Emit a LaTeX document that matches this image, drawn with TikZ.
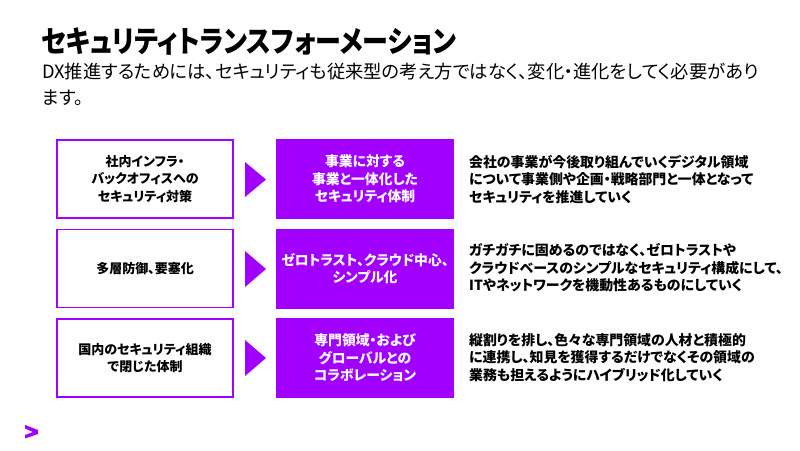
\documentclass[tikz,border=0pt]{standalone}
\usepackage{graphicx}
\usepackage{fontspec}
\setmainfont{Noto Sans CJK JP}[RawFeature=+palt]
\definecolor{acc}{HTML}{A100FF}
\begin{document}
\begin{tikzpicture}[x=1pt,y=-1pt,
  oldbox/.style={draw=acc,line width=1.5pt,fill=white,minimum width=176pt,minimum height=78pt,align=center,font=\bfseries\fontsize{13}{17.5}\selectfont,inner sep=2pt},
  newbox/.style={fill=acc,minimum width=178pt,minimum height=80pt,align=center,text=white,font=\bfseries\fontsize{13.8}{17.5}\selectfont,inner sep=2pt},
  desc/.style={anchor=west,align=left,font=\bfseries\fontsize{13.9}{17.5}\selectfont,inner sep=0pt},
  tri/.style={fill=acc,draw=none}]
\useasboundingbox (0,0) rectangle (800,450);
\fill[white] (0,0) rectangle (800,450);
\node[anchor=west,inner sep=0pt,font=\bfseries\fontsize{26}{30}\selectfont] (title) at (41,41.5) {\scalebox{1}[1.15]{セキュリティトランスフォーメーション}};
\node[anchor=north west,inner sep=0pt,align=left,font=\fontsize{18.3}{26}\selectfont] (sub) at (42,62.5) {DX推進するためには、セキュリティも従来型の考え方ではなく、変化・進化をしてく必要があり\\ます。};
% row 1
\node[oldbox] (o1) at (145,179) {社内インフラ・\\バックオフィスへの\\セキュリティ対策};
\node[newbox] (n1) at (365,179) {事業に対する\\事業と一体化した\\セキュリティ体制};
\fill[tri] (245,162) -- (266,179.5) -- (245,197) -- cycle;
\node[desc] (d1) at (469,179.5) {会社の事業が今後取り組んでいくデジタル領域\\について事業側や企画・戦略部門と一体となって\\セキュリティを推進していく};
% row 2
\node[oldbox] (o2) at (145,268.5) {多層防御、要塞化};
\node[newbox] (n2) at (365,268.5) {ゼロトラスト、クラウド中心、\\シンプル化};
\fill[tri] (245,251) -- (266,269) -- (245,287) -- cycle;
\node[desc] (d2) at (469,268) {ガチガチに固めるのではなく、ゼロトラストや\\クラウドベースのシンプルなセキュリティ構成にして、\\ITやネットワークを機動性あるものにしていく};
% row 3
\node[oldbox] (o3) at (145,358) {国内のセキュリティ組織\\で閉じた体制};
\node[newbox] (n3) at (365,358) {専門領域・および\\グローバルとの\\コラボレーション};
\fill[tri] (245,340) -- (266,358) -- (245,376) -- cycle;
\node[desc] (d3) at (469,357.5) {縦割りを排し、色々な専門領域の人材と積極的\\に連携し、知見を獲得するだけでなくその領域の\\業務も担えるようにハイブリッド化していく};
% logo
\fill[acc] (25,425) -- (38,430) -- (38,434) -- (25,438.5) -- (25,435) -- (33,432) -- (25,428.5) -- cycle;
\end{tikzpicture}
\end{document}
